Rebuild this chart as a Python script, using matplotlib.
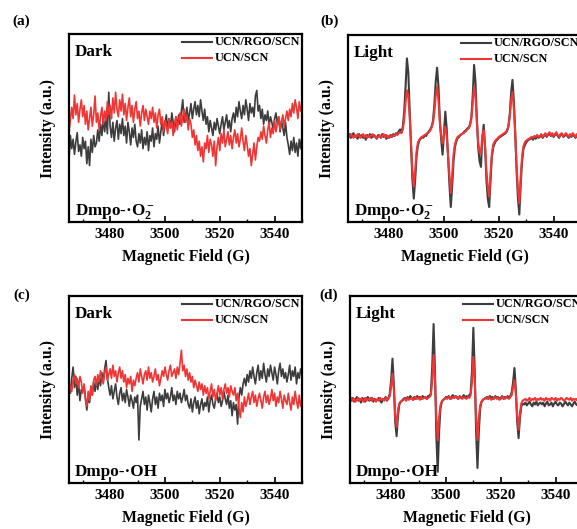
import numpy as np
import matplotlib
matplotlib.use('Agg')
import matplotlib.pyplot as plt
from matplotlib.ticker import MultipleLocator

plt.rcParams['font.family'] = ['Liberation Serif', 'DejaVu Serif']
plt.rcParams['font.weight'] = 'bold'
plt.rcParams['mathtext.fontset'] = 'custom'
plt.rcParams['mathtext.rm'] = 'Liberation Serif:bold'
plt.rcParams['mathtext.it'] = 'Liberation Serif:bold'
plt.rcParams['mathtext.bf'] = 'Liberation Serif:bold'

# ---------------- data ----------------
field_start = 3465.0
field_step = 0.5
n_points = 171
field = field_start + field_step * np.arange(n_points)

series_labels = ['UCN/RGO/SCN', 'UCN/SCN']
panel_letters = ['(a)', '(b)', '(c)', '(d)']
conditions = ['Dark', 'Light', 'Dark', 'Light']
species = ['Dmpo-·O$_2^-$', 'Dmpo-·O$_2^-$', 'Dmpo-·OH', 'Dmpo-·OH']
xticks = [3480, 3500, 3520, 3540]

# (a) dark, DMPO-O2-
dark_o2_rgo = [
    -34, -8, -22, -12, -28, -15, -5, -25, -18, -30, -10, -22, -14, -38, -20, -40, -12, -26, -8, -20,
    -16, -2, -14, 4, -8, 10, -4, 12, -6, 38, 2, -10, 6, -14, 0, 8, -12, 4, -6, 10,
    -8, 2, -16, 6, -4, -18, 0, -10, 4, -14, -20, -6, -16, -2, -22, -10, -18, -4, -24, -8,
    -14, 0, -20, -6, -12, 2, -16, -4, 8, -8, 4, 14, -2, 10, 0, 16, 6, -4, 12, 2,
    14, 4, 18, 30, 6, 12, 22, 8, 16, 26, 10, 20, 28, 14, 24, 12, 30, 18, 8, 20,
    4, 12, -4, 8, 0, -8, 6, -2, 10, 2, -6, 4, 12, -2, 6, 14, 0, 8, -4, 10,
    16, 6, 22, 12, 28, 18, 10, 24, 14, 30, 20, 8, 26, 16, 22, 12, 34, 40, 18, 24,
    10, 20, 4, 14, 8, 18, 2, 12, 6, -2, 10, 16, 4, 12, -4, 8, 0, -8, 6, -10,
    -18, -28, -14, -24, -10, -26, -16, -30, -12, -22, -8]
dark_o2_ucn = [
    -5, 8, 22, 10, 35, 14, 26, 6, 20, 30, 12, 24, 4, 18, -2, 10, 22, 2, 14, 34,
    6, 16, -2, 12, 22, 4, 18, 8, 28, 14, 24, 10, 32, 16, 38, 20, 12, 30, 18, 36,
    14, 26, 8, 22, 32, 12, 24, 6, 20, 28, 10, 18, 2, 16, 24, 8, 20, 12, 4, 18,
    10, 22, 6, 16, 0, 14, 20, 4, 12, -4, 8, 2, -6, 10, 0, 6, -8, 4, 12, -2,
    8, 16, 2, 12, 20, 6, 14, -2, 10, 4, -10, -2, -18, -8, -24, -14, -30, -20, -36, -16,
    -22, -8, -26, -12, -18, -30, -14, -40, -20, -10, -24, -6, -16, -2, -20, -12, -4, -18, -8, -22,
    -10, -2, -16, -6, -20, -12, 0, -14, -24, -8, -18, -30, -22, -40, -28, -16, -34, -20, -10, -14,
    -4, -12, 2, -8, -16, -2, 6, -10, 0, -6, 8, -4, 4, 12, -2, 6, 14, 2, 10, 18,
    8, 20, 12, 26, 16, 30, 22, 10, 28, 18, 24]

# (b) light, DMPO-O2-
light_o2_rgo = [
    -8, -6, -10, -7, -5, -9, -8, -11, -6, -9, -7, -10, -8, -12, -7, -9, -6, -10, -8, -7,
    -9, -11, -7, -8, -10, -6, -9, -7, -11, -8, -10, -7, -9, -6, -8, -5, -6, -3, -1, -4,
    2, 18, 45, 75, 60, 20, -20, -55, -75, -55, -30, -18, -13, -11, -9, -10, -7, -8, -5, -3,
    -1, 2, 8, 25, 50, 65, 45, 10, -12, -28, -5, 18, 0, -30, -60, -84, -62, -35, -20, -14,
    -10, -9, -7, -6, -5, -3, -2, 0, 1, 4, 12, 35, 68, 50, 10, -20, -35, -41, -10, 4,
    -20, -55, -75, -84, -55, -30, -20, -16, -13, -12, -10, -9, -8, -7, -6, -5, -3, 2, 15, 38,
    52, 30, -5, -45, -75, -92, -60, -35, -22, -18, -15, -13, -12, -11, -10, -12, -9, -11, -8, -10,
    -9, -7, -10, -8, -6, -9, -7, -5, -8, -6, -9, -7, -5, -8, -10, -7, -6, -9, -8, -6,
    -8, -10, -7, -9, -6, -8, -10, -7, -9, -8, -7]
light_o2_ucn = [
    -7, -9, -6, -8, -10, -7, -9, -6, -8, -10, -8, -6, -9, -7, -10, -8, -9, -7, -6, -9,
    -8, -10, -9, -7, -9, -8, -6, -9, -7, -10, -8, -9, -7, -8, -7, -6, -7, -5, -4, -5,
    -1, 10, 28, 41, 35, 12, -15, -45, -62, -45, -25, -15, -12, -10, -9, -8, -7, -6, -5, -4,
    -2, 1, 6, 18, 35, 45, 30, 6, -8, -16, -6, 2, -8, -28, -50, -69, -50, -28, -17, -12,
    -9, -8, -7, -6, -5, -4, -3, -1, 0, 3, 10, 28, 45, 35, 8, -15, -25, -27, -8, -2,
    -18, -45, -63, -73, -48, -26, -17, -14, -12, -11, -9, -8, -7, -6, -5, -4, -2, 2, 12, 30,
    39, 22, -5, -40, -65, -80, -52, -30, -19, -15, -13, -12, -11, -10, -9, -10, -8, -9, -7, -9,
    -8, -6, -9, -7, -5, -8, -6, -4, -7, -5, -8, -6, -4, -7, -9, -6, -5, -8, -7, -5,
    -7, -9, -6, -8, -5, -7, -9, -6, -8, -7, -6]

# (c) dark, DMPO-OH
dark_oh_rgo = [
    5, -4, 12, 24, 2, 14, -6, 6, -12, 0, -2, 4, -10, -22, -8, -14, 2, -6, 8, -2,
    10, 0, 14, 4, 18, 8, 22, 31, 12, 2, -6, 4, -10, -2, 6, -8, -16, -4, 2, -12,
    -4, -14, 0, -8, -18, -6, -12, -20, -8, -14, -6, -54, -18, -10, -2, -16, -8, -22, -6, -14,
    -24, -10, -2, -16, -8, -20, -4, -12, -6, -18, 0, -10, -4, -14, -8, 2, -12, -6, -16, -2,
    -10, -4, -14, -8, 0, -12, -6, -16, -20, -10, -24, -14, -8, -20, -12, -26, -16, -10, -22, -14,
    -18, -8, -24, -12, -6, -16, -20, -10, -4, -14, -8, -18, -12, -2, -10, -16, -6, -20, -12, -28,
    -14, -22, -16, -37, -8, 2, -6, 6, 12, 4, 16, 8, 20, 12, 24, 14, 6, 18, 26, 10,
    20, 12, 28, 16, 8, 22, 14, 26, 18, 10, 24, 16, 6, 20, 28, 14, 22, 12, 18, 8,
    16, 26, 10, 20, 14, 24, 6, 18, 12, 22, 16]
dark_oh_ucn = [
    -6, 4, -2, 10, 16, 6, 12, 2, 14, 8, -4, 6, -10, -18, -2, -12, 4, -6, 10, 14,
    4, 16, 8, 20, 12, 6, 18, 24, 10, 16, 22, 12, 26, 14, 20, 8, 18, 24, 12, 20,
    8, 16, 2, 12, 6, 14, -2, 10, 4, 12, 18, 8, 22, 14, 6, 16, 20, 10, 24, 12,
    18, 8, 14, 22, 10, 16, 4, 12, 20, 14, 24, 16, 10, 20, 26, 14, 18, 22, 12, 24,
    16, 28, 42, 20, 26, 14, 22, 10, 18, 8, 14, 2, 10, 4, -2, 8, 0, 6, -6, 4,
    -4, 2, -10, -2, 6, -8, 0, -12, -4, 4, -6, 2, -10, 0, 6, -4, 2, -8, 4, -2,
    -6, 2, -12, -4, -20, -30, -14, -24, -8, -18, -12, -4, -16, -8, -2, -14, -6, -18, -10, -4,
    -12, -20, -8, -2, -14, -6, -16, -10, 0, -12, -4, -18, -8, -14, -2, -10, -20, -6, -12, -16,
    -4, -14, -22, -8, -16, -2, -12, -20, -6, -18, -10]

# (d) light, DMPO-OH
light_oh_rgo = [
    -10, -12, -9, -13, -11, -8, -12, -10, -14, -9, -11, -13, -10, -8, -12, -11, -9, -13, -10, -12,
    -11, -9, -12, -14, -10, -11, -8, -12, -9, -5, 10, 33, 5, -35, -50, -28, -16, -13, -12, -10,
    -9, -11, -8, -10, -7, -9, -11, -8, -10, -7, -9, -8, -10, -7, -9, -8, -10, -7, -7, -4,
    25, 70, 20, -50, -88, -45, -20, -13, -11, -10, -8, -9, -7, -10, -8, -6, -9, -7, -8, -10,
    -7, -9, -8, -6, -9, -7, -8, -6, -4, 20, 66, 20, -45, -84, -45, -20, -13, -11, -10, -9,
    -8, -10, -7, -9, -8, -10, -7, -9, -8, -10, -9, -7, -10, -8, -9, -7, -9, -7, -3, 8,
    23, 0, -35, -52, -30, -18, -15, -16, -14, -17, -15, -13, -16, -18, -14, -16, -13, -17, -15, -14,
    -16, -14, -18, -15, -13, -17, -16, -14, -18, -15, -13, -16, -17, -14, -15, -18, -16, -13, -15, -17,
    -14, -16, -18, -15, -13, -16, -17, -14, -16, -15, -13]
light_oh_ucn = [
    -11, -9, -12, -10, -13, -11, -9, -12, -10, -11, -13, -9, -12, -10, -11, -9, -12, -10, -11, -13,
    -10, -12, -9, -11, -10, -12, -9, -11, -10, -7, 3, 17, 0, -28, -40, -22, -15, -13, -12, -11,
    -10, -12, -9, -11, -10, -9, -11, -10, -8, -10, -9, -11, -8, -10, -9, -8, -10, -9, -8, -6,
    10, 37, 10, -30, -54, -30, -17, -13, -11, -10, -9, -10, -8, -9, -10, -8, -9, -7, -9, -10,
    -8, -9, -10, -8, -9, -10, -8, -9, -6, 8, 35, 10, -30, -54, -30, -17, -13, -11, -10, -9,
    -10, -8, -9, -11, -10, -9, -8, -10, -9, -11, -10, -8, -9, -10, -8, -9, -10, -8, -6, 2,
    10, -5, -28, -43, -25, -15, -12, -11, -10, -12, -11, -9, -12, -10, -11, -9, -12, -10, -11, -9,
    -11, -10, -12, -9, -11, -10, -12, -9, -10, -11, -9, -12, -10, -11, -9, -10, -12, -11, -9, -10,
    -11, -9, -12, -10, -11, -10, -12, -9, -11, -10, -12]

panel_data = [(dark_o2_rgo, dark_o2_ucn), (light_o2_rgo, light_o2_ucn),
              (dark_oh_rgo, dark_oh_ucn), (light_oh_rgo, light_oh_ucn)]

# ---------------- figure ----------------
W, H = 577, 529
fig = plt.figure(figsize=(W / 100, H / 100), dpi=100)

rects_px = [(69, 34, 233, 188), (348, 35, 233, 187),
            (69, 296, 233, 187), (350, 296, 233, 187)]
letter_pos = [(21, 21), (330, 21), (22, 295), (329, 295)]
line_w = [1.2, 1.5, 1.2, 1.5]

col_rgo = '#3d3d3d'
col_ucn = '#f03535'

for i in range(4):
    l, t, w, h = rects_px[i]
    ax = fig.add_axes([l / W, 1 - (t + h) / H, w / W, h / H])
    y_rgo, y_ucn = panel_data[i]
    ax.plot(field, y_rgo, color=col_rgo, lw=line_w[i], label=series_labels[0])
    ax.plot(field, y_ucn, color=col_ucn, lw=line_w[i], label=series_labels[1])
    ax.set_xlim(3465, 3550)
    ax.set_ylim(-100, 100)
    ax.set_xticks(xticks)
    ax.xaxis.set_minor_locator(MultipleLocator(10))
    ax.set_yticks([])
    ax.tick_params(axis='x', which='major', direction='in', length=4, width=1.2,
                   labelsize=11, pad=4)
    ax.tick_params(axis='x', which='minor', direction='in', length=2.5, width=1.0)
    for sp in ax.spines.values():
        sp.set_linewidth(1.6)
    ax.set_xlabel('Magnetic Field (G)', fontsize=11.3, fontweight='bold', labelpad=6)
    ax.set_ylabel('Intensity (a.u.)', fontsize=11.3, fontweight='bold')
    ax.yaxis.set_label_coords(-0.056, 0.5)

    ax.text(0.024, 0.885, conditions[i], transform=ax.transAxes, fontsize=12.3,
            fontweight='bold', ha='left', va='baseline')
    ax.text(0.024, 0.036, species[i], transform=ax.transAxes, fontsize=12.3,
            fontweight='bold', ha='left', va='baseline')

    # legend (drawn manually)
    for k, (yy, c) in enumerate([(0.955, col_rgo), (0.87, col_ucn)]):
        ax.plot([0.487, 0.614], [yy, yy], transform=ax.transAxes, color=c, lw=1.5,
                clip_on=False)
        ax.text(0.627, yy, series_labels[k], transform=ax.transAxes, fontsize=8.7,
                fontweight='bold', ha='left', va='center', clip_on=True)

    fig.text(letter_pos[i][0] / W, 1 - letter_pos[i][1] / H, panel_letters[i],
             fontsize=11, fontweight='bold', ha='center', va='center')

fig.savefig('out.png', dpi=100)
